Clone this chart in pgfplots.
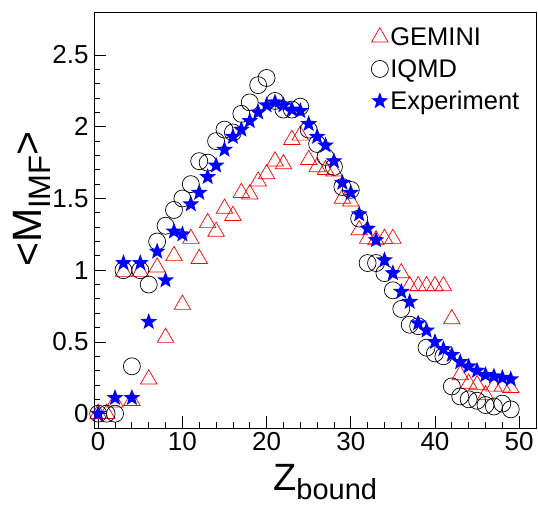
\documentclass[border=0pt]{standalone}
\usepackage{fontspec}
\setmainfont{Liberation Sans}
\usepackage{pgfplots}
\pgfplotsset{compat=1.18}
\usepackage{pgfplotstable}

\pgfdeclareplotmark{fstar}{%
  \pgfpathmoveto{\pgfpointpolar{90}{\pgfplotmarksize}}%
  \pgfpathlineto{\pgfpointpolar{126}{0.42*\pgfplotmarksize}}%
  \pgfpathlineto{\pgfpointpolar{162}{\pgfplotmarksize}}%
  \pgfpathlineto{\pgfpointpolar{198}{0.42*\pgfplotmarksize}}%
  \pgfpathlineto{\pgfpointpolar{234}{\pgfplotmarksize}}%
  \pgfpathlineto{\pgfpointpolar{270}{0.42*\pgfplotmarksize}}%
  \pgfpathlineto{\pgfpointpolar{306}{\pgfplotmarksize}}%
  \pgfpathlineto{\pgfpointpolar{342}{0.42*\pgfplotmarksize}}%
  \pgfpathlineto{\pgfpointpolar{18}{\pgfplotmarksize}}%
  \pgfpathlineto{\pgfpointpolar{54}{0.42*\pgfplotmarksize}}%
  \pgfpathclose
  \pgfusepathqfill
}

\pgfplotstableread{
Z y
0 0.0
1 0.0
2 0.08
3 0.99
4 0.09
5 0.99
6 0.24
7 1.02
8 0.53
9 1.10
10 0.76
11 1.22
12 1.08
13 1.33
14 1.27
15 1.43
16 1.38
17 1.54
18 1.53
19 1.62
20 1.67
21 1.76
22 1.74
23 1.91
24 1.94
25 1.77
26 1.72
27 1.70
28 1.69
29 1.50
30 1.48
31 1.28
32 1.22
33 1.21
34 1.22
35 1.22
36 0.98
37 0.89
38 0.89
39 0.89
40 0.89
41 0.89
42 0.66
43 0.27
44 0.21
45 0.20
46 0.13
47 0.19
48 0.19
49 0.18
}\gemini

\pgfplotstableread{
Z y
0 0.0
1 0.0
2 0.0
3 1.0
4 0.33
5 1.0
6 0.9
7 1.2
8 1.31
9 1.42
10 1.50
11 1.60
12 1.76
13 1.75
14 1.90
15 1.98
16 1.96
17 2.09
18 2.17
19 2.29
20 2.34
21 2.18
22 2.12
23 2.12
24 2.14
25 1.98
26 1.88
27 1.79
28 1.72
29 1.58
30 1.56
31 1.36
32 1.05
33 1.05
34 0.98
35 0.86
36 0.73
37 0.62
38 0.61
39 0.46
40 0.42
41 0.40
42 0.19
43 0.12
44 0.10
45 0.09
46 0.06
47 0.05
48 0.07
49 0.03
}\iqmd

\pgfplotstableread{
Z y
0 0.0
2 0.11
3 1.05
4 0.11
5 1.05
6 0.64
7 1.13
8 0.93
9 1.27
10 1.25
11 1.46
12 1.54
13 1.65
14 1.73
15 1.84
16 1.93
17 1.98
18 2.04
19 2.10
20 2.15
21 2.17
22 2.15
23 2.12
24 2.11
25 2.02
26 1.93
27 1.87
28 1.76
29 1.61
30 1.54
31 1.39
32 1.29
33 1.21
34 1.07
35 0.98
36 0.85
37 0.78
38 0.63
39 0.58
40 0.50
41 0.45
42 0.41
43 0.36
44 0.33
45 0.30
46 0.27
47 0.26
48 0.25
49 0.24
}\expt

\begin{document}
\begin{tikzpicture}
\begin{axis}[
  at={(0pt,0pt)}, anchor=south west,
  scale only axis, width=442pt, height=416pt,
  xmin=-0.5, xmax=52, ymin=-0.1, ymax=2.8,
  xtick={0,10,20,30,40,50},
  ytick={0,0.5,1,1.5,2,2.5},
  yticklabels={0,0.5,1,1.5,2,2.5},
  minor x tick num=4, minor y tick num=4,
  tick align=inside, xtick pos=bottom, ytick pos=left,
  major tick length=12pt, minor tick length=6pt,
  axis line style={line width=0.8pt},
  every tick/.style={black, line width=0.8pt},
  /pgf/number format/assume math mode=true,
  tick label style={font=\fontsize{26}{26}\selectfont},
  xticklabel style={yshift=-1pt},
  yticklabel style={xshift=-2pt},
  xlabel={\fontsize{38}{38}\selectfont Z\raisebox{-9pt}{\fontsize{29}{29}\selectfont bound}},
  xlabel style={at={(axis description cs:0.523,0)}, anchor=base, yshift=-63pt},
  ylabel={\fontsize{41}{41}\selectfont <M\raisebox{-9pt}{\fontsize{31}{31}\selectfont IMF}>},
  ylabel style={at={([xshift=-52pt]axis description cs:0,0.55)}, anchor=base},
  legend style={at={(axis description cs:0.627,0.968)}, anchor=north west, draw=none, fill=none,
    font=\fontsize{25.5}{25.5}\selectfont, row sep=8.5pt, inner sep=0pt},
  legend cell align=left,
]
\addplot[only marks, mark=triangle, mark size=9.5pt, draw=red, line width=0.7pt] table[x=Z,y=y]{\gemini};
\addlegendentry{GEMINI}
\addplot[only marks, mark=o, mark size=8.5pt, draw=black, line width=0.7pt] table[x=Z,y=y]{\iqmd};
\addlegendentry{IQMD}
\addplot[only marks, mark=fstar, mark size=8.8pt, fill=blue, draw=blue] table[x=Z,y=y]{\expt};
\addlegendentry{Experiment}
\end{axis}
\pgfresetboundingbox
\useasboundingbox (-94pt,-77pt) rectangle (444pt,428pt);
\end{tikzpicture}
\end{document}
